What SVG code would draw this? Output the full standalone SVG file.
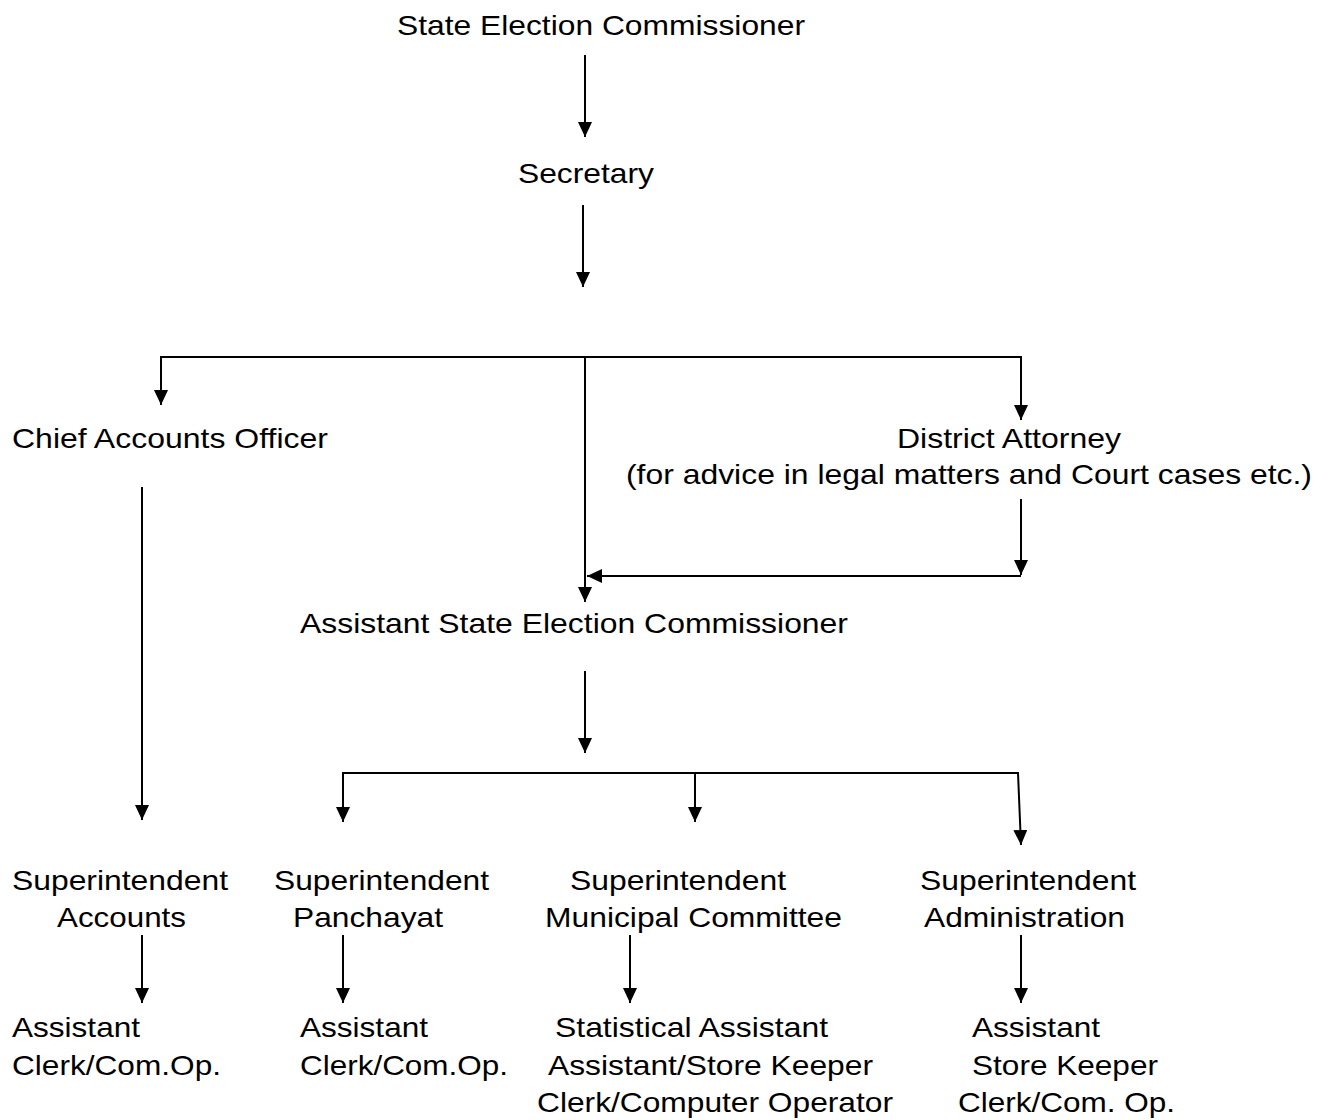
<svg xmlns="http://www.w3.org/2000/svg" width="1332" height="1120" viewBox="0 0 1332 1120">
<style>
.t{font-family:"Liberation Sans",Arial,sans-serif;font-size:28px;fill:#000}
.c{stroke:#000;stroke-width:2;fill:none}
</style>
<defs>
<marker id="ah" markerUnits="userSpaceOnUse" markerWidth="16" markerHeight="15" refX="15" refY="7" orient="auto">
<path d="M0,0 L15,7 L0,14 z" fill="#000"/>
</marker>
</defs>
<rect width="1332" height="1120" fill="#fff"/>
<g id="connectors">
<line class="c" x1="585" y1="55" x2="585" y2="137" marker-end="url(#ah)"/>
<line class="c" x1="583" y1="205" x2="583" y2="287" marker-end="url(#ah)"/>
<polyline class="c" points="161,405 161,357 1021,357 1021,420" marker-end="url(#ah)"/>
<line class="c" x1="161" y1="357" x2="161" y2="405" marker-end="url(#ah)"/>
<line class="c" x1="585" y1="357" x2="585" y2="602" marker-end="url(#ah)"/>
<line class="c" x1="1021" y1="499" x2="1021" y2="575" marker-end="url(#ah)"/>
<line class="c" x1="1021" y1="576" x2="587" y2="576" marker-end="url(#ah)"/>
<line class="c" x1="142" y1="487" x2="142" y2="820" marker-end="url(#ah)"/>
<line class="c" x1="585" y1="671" x2="585" y2="753" marker-end="url(#ah)"/>
<polyline class="c" points="343,822 343,773 1018,773 1021,845" marker-end="url(#ah)"/>
<line class="c" x1="343" y1="773" x2="343" y2="822" marker-end="url(#ah)"/>
<line class="c" x1="695" y1="773" x2="695" y2="822" marker-end="url(#ah)"/>
<line class="c" x1="142" y1="935" x2="142" y2="1003" marker-end="url(#ah)"/>
<line class="c" x1="343" y1="935" x2="343" y2="1003" marker-end="url(#ah)"/>
<line class="c" x1="630" y1="935" x2="630" y2="1003" marker-end="url(#ah)"/>
<line class="c" x1="1021" y1="935" x2="1021" y2="1003" marker-end="url(#ah)"/>
</g>
<g id="state-election-commissioner"><text class="t" x="397" y="35" textLength="408" lengthAdjust="spacingAndGlyphs">State Election Commissioner</text></g>
<g id="secretary"><text class="t" x="518" y="183" textLength="136" lengthAdjust="spacingAndGlyphs">Secretary</text></g>
<g id="chief-accounts-officer"><text class="t" x="12" y="448" textLength="316" lengthAdjust="spacingAndGlyphs">Chief Accounts Officer</text></g>
<g id="district-attorney">
<text class="t" x="897" y="448" textLength="224" lengthAdjust="spacingAndGlyphs">District Attorney</text>
<text class="t" x="626" y="484" textLength="686" lengthAdjust="spacingAndGlyphs">(for advice in legal matters and Court cases etc.)</text>
</g>
<g id="assistant-state-election-commissioner"><text class="t" x="300" y="633" textLength="548" lengthAdjust="spacingAndGlyphs">Assistant State Election Commissioner</text></g>
<g id="supt-accounts">
<text class="t" x="12" y="890" textLength="216" lengthAdjust="spacingAndGlyphs">Superintendent</text>
<text class="t" x="57" y="927" textLength="129" lengthAdjust="spacingAndGlyphs">Accounts</text>
</g>
<g id="supt-panchayat">
<text class="t" x="274" y="890" textLength="215" lengthAdjust="spacingAndGlyphs">Superintendent</text>
<text class="t" x="293" y="927" textLength="150" lengthAdjust="spacingAndGlyphs">Panchayat</text>
</g>
<g id="supt-municipal">
<text class="t" x="570" y="890" textLength="216" lengthAdjust="spacingAndGlyphs">Superintendent</text>
<text class="t" x="545" y="927" textLength="297" lengthAdjust="spacingAndGlyphs">Municipal Committee</text>
</g>
<g id="supt-administration">
<text class="t" x="920" y="890" textLength="216" lengthAdjust="spacingAndGlyphs">Superintendent</text>
<text class="t" x="924" y="927" textLength="201" lengthAdjust="spacingAndGlyphs">Administration</text>
</g>
<g id="staff-accounts">
<text class="t" x="12" y="1037" textLength="128" lengthAdjust="spacingAndGlyphs">Assistant</text>
<text class="t" x="12" y="1075" textLength="209" lengthAdjust="spacingAndGlyphs">Clerk/Com.Op.</text>
</g>
<g id="staff-panchayat">
<text class="t" x="300" y="1037" textLength="128" lengthAdjust="spacingAndGlyphs">Assistant</text>
<text class="t" x="300" y="1075" textLength="208" lengthAdjust="spacingAndGlyphs">Clerk/Com.Op.</text>
</g>
<g id="staff-municipal">
<text class="t" x="555" y="1037" textLength="273" lengthAdjust="spacingAndGlyphs">Statistical Assistant</text>
<text class="t" x="548" y="1075" textLength="325" lengthAdjust="spacingAndGlyphs">Assistant/Store Keeper</text>
<text class="t" x="537" y="1112" textLength="356" lengthAdjust="spacingAndGlyphs">Clerk/Computer Operator</text>
</g>
<g id="staff-administration">
<text class="t" x="972" y="1037" textLength="128" lengthAdjust="spacingAndGlyphs">Assistant</text>
<text class="t" x="972" y="1075" textLength="186" lengthAdjust="spacingAndGlyphs">Store Keeper</text>
<text class="t" x="958" y="1112" textLength="217" lengthAdjust="spacingAndGlyphs">Clerk/Com. Op.</text>
</g>
</svg>
